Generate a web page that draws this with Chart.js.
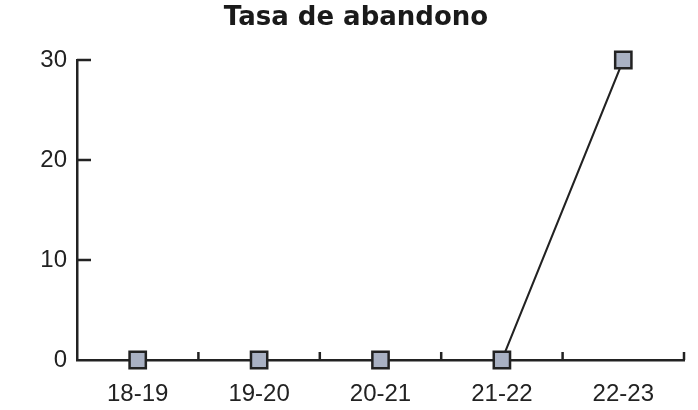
<!DOCTYPE html>
<html>
<head>
<meta charset="utf-8">
<script src="https://cdn.jsdelivr.net/npm/chart.js@4/dist/chart.umd.min.js"></script>
<style>
html,body{margin:0;padding:0;background:#fff}
</style>
</head>
<body>
<canvas id="abandonoChart" width="698" height="410"></canvas>
<script>
// data
const cursos = ["18-19", "19-20", "20-21", "21-22", "22-23"];
const tasaAbandono = [0, 0, 0, 0, 30];
const yTicks = [0, 10, 20, 30];

const ink = "#222222";

// short tick marks drawn inward from the axes
const innerTicks = {
  id: "innerTicks",
  beforeDatasetsDraw(chart) {
    const { ctx, scales: { x, y }, chartArea: a } = chart;
    ctx.save();
    ctx.strokeStyle = ink;
    ctx.lineWidth = 2.5;
    yTicks.forEach(v => {
      if (v === 0) return;
      const py = y.getPixelForValue(v);
      ctx.beginPath();
      ctx.moveTo(a.left, py);
      ctx.lineTo(a.left + 14, py);
      ctx.stroke();
    });
    for (let i = 1; i <= cursos.length; i++) {
      const px = x.getPixelForValue(i - 0.5);
      ctx.beginPath();
      ctx.moveTo(px, a.bottom);
      ctx.lineTo(px, a.bottom - 8);
      ctx.stroke();
    }
    ctx.restore();
  }
};

new Chart(document.getElementById("abandonoChart"), {
  type: "line",
  data: {
    labels: cursos,
    datasets: [{
      data: tasaAbandono,
      borderColor: ink,
      borderWidth: 2,
      pointStyle: "rect",
      pointRadius: 11.5,
      pointHoverRadius: 11.5,
      pointBackgroundColor: "#a9b1c3",
      pointBorderColor: ink,
      pointBorderWidth: 2.5,
      clip: false
    }]
  },
  options: {
    responsive: false,
    animation: false,
    devicePixelRatio: 1,
    layout: { padding: { left: 25, right: 11, top: 0, bottom: 0 } },
    plugins: {
      legend: { display: false },
      tooltip: { enabled: false },
      title: {
        display: true,
        text: "Tasa de abandono",
        color: "#1a1a1a",
        font: { family: "DejaVu Sans", size: 26, weight: "bold" },
        padding: { top: 2.5, bottom: 26.3 }
      }
    },
    scales: {
      x: {
        offset: true,
        grid: { display: false, drawTicks: false },
        border: { display: true, color: ink, width: 2.5 },
        ticks: { color: ink, font: { family: "Liberation Sans", size: 24 }, padding: 20, maxRotation: 0 },
        afterFit(scale) { scale.height = 50; }
      },
      y: {
        min: 0,
        max: 30,
        grid: { display: false, drawTicks: false },
        border: { display: true, color: ink, width: 2.5 },
        ticks: { stepSize: 10, color: ink, font: { family: "Liberation Sans", size: 24 }, padding: 10 },
        afterFit(scale) { scale.width = 52; }
      }
    }
  },
  plugins: [innerTicks]
});
</script>
</body>
</html>
